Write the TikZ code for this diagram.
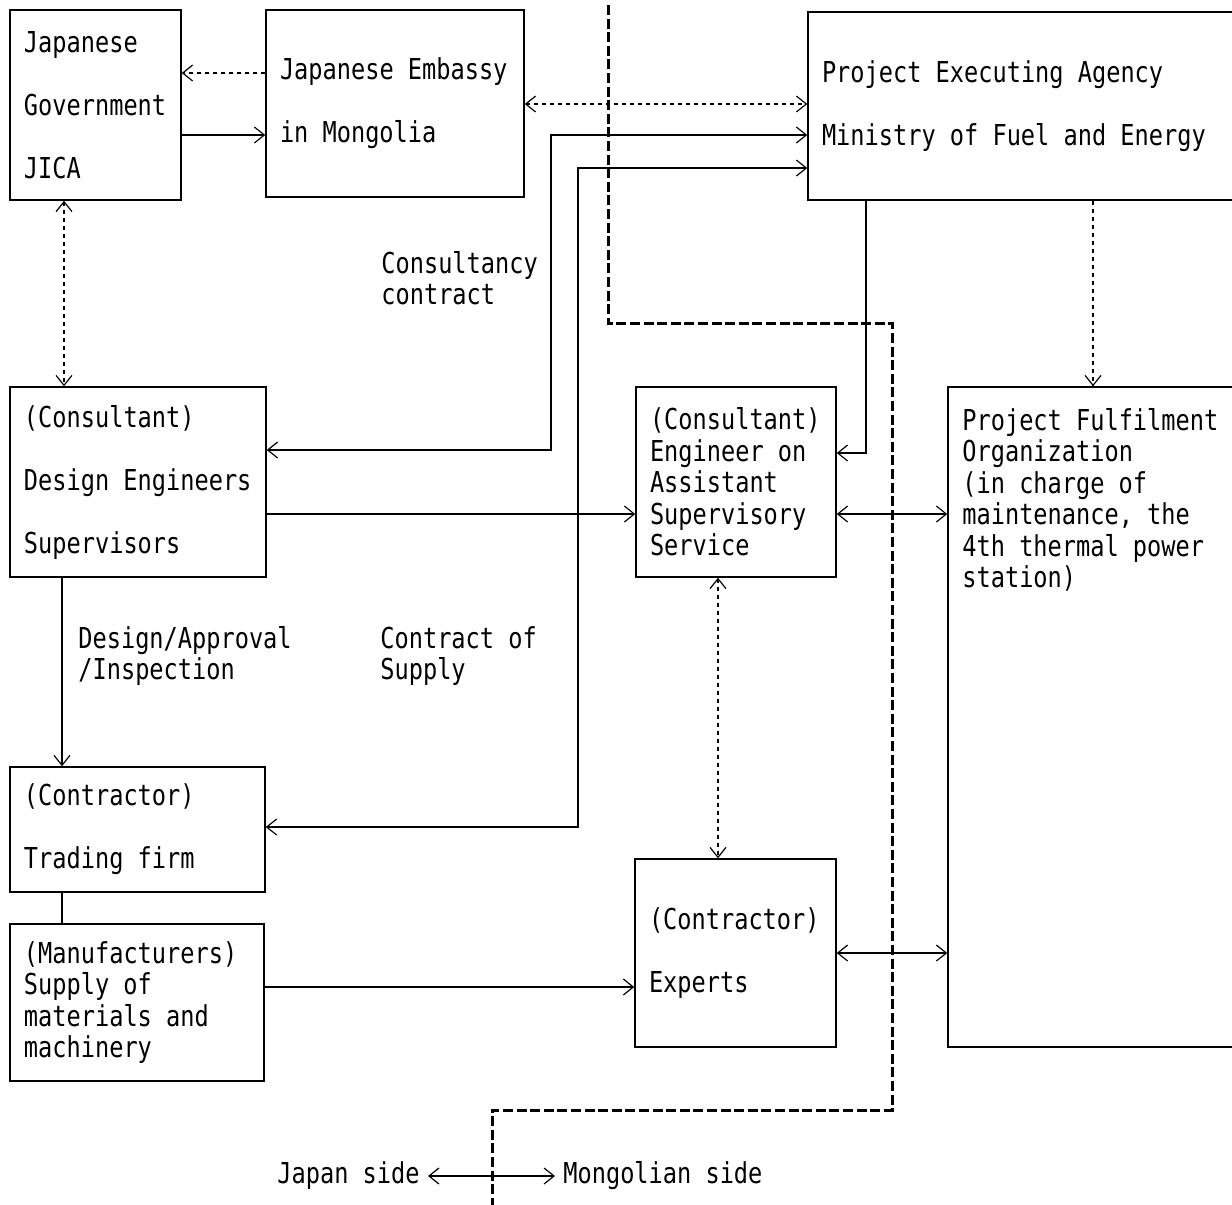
\documentclass[tikz,border=0pt]{standalone}
\usepackage{fontspec}
\newfontfamily\dmono[FakeStretch=0.82]{DejaVu Sans Mono}
\usetikzlibrary{arrows.meta}
\tikzset{
  every node/.style={font=\dmono\fontsize{14.4}{15.75}\selectfont,
    execute at begin node={\spaceskip=7.1pt\relax\xspaceskip=7.1pt\relax}},
  box/.style={draw, line width=0.7pt, rectangle, align=left, inner xsep=7pt, inner ysep=0pt},
  wide/.style={font=\dmono\fontsize{14.4}{31.5}\selectfont},
  conn/.style={line width=0.6pt, arrows={-}, >={Straight Barb[length=5pt,width=8pt]}},
  dotconn/.style={conn, dash pattern=on 2pt off 2pt},
  boundary/.style={line width=1.5pt, dash pattern=on 5pt off 1.8pt},
  lbl/.style={align=left, inner sep=0pt}
}
\begin{document}
\begin{tikzpicture}[x=0.5pt,y=-0.5pt]
\clip (0,0) rectangle (1232,1205);
\fill[white] (0,0) rectangle (1232,1205);

% boxes
\node[box,wide,minimum width=85.5pt,minimum height=95pt,text width=71.5pt] (jica) at (95.5,105) {Japanese\\Government\\JICA};
\node[box,wide,minimum width=129pt,minimum height=93.5pt,text width=115pt] (emb) at (395,103.5) {Japanese Embassy\\in Mongolia};
\node[box,wide,minimum width=214pt,minimum height=94pt,text width=200pt] (pea) at (1022,106) {Project Executing Agency\\Ministry of Fuel and Energy};
\node[box,wide,minimum width=128pt,minimum height=95pt,text width=114pt] (cons) at (138,482) {(Consultant)\\Design Engineers\\Supervisors};
\node[box,minimum width=100pt,minimum height=95pt,text width=86pt] (eng) at (736,482) {(Consultant)\\Engineer on\\Assistant\\Supervisory\\Service};
\node[box,minimum width=144pt,minimum height=330pt] (pfo) at (1092,717) {};
\node[lbl,anchor=north west] (pfotext) at (962,408) {Project Fulfilment\\Organization\\(in charge of\\maintenance, the\\4th thermal power\\station)};
\node[box,wide,minimum width=127.5pt,minimum height=62.5pt,text width=113.5pt] (trad) at (137.5,829.5) {(Contractor)\\Trading firm};
\node[box,minimum width=127pt,minimum height=78.5pt,text width=113pt] (manu) at (137,1002.5) {(Manufacturers)\\Supply of\\materials and\\machinery};
\node[box,wide,minimum width=100.5pt,minimum height=94pt,text width=86.5pt] (exp) at (735.5,953) {(Contractor)\\Experts};

% labels
\node[lbl,anchor=west] (lcc) at (381,278) {Consultancy\\contract};
\node[lbl,anchor=west] (lda) at (78,656) {Design/Approval\\/Inspection};
\node[lbl,anchor=west] (lcs) at (380,656) {Contract of\\Supply};

% boundary
\draw[boundary] (608,5) -- (608,323) -- (892,323) -- (892,1110) -- (492,1110) -- (492,1205);

% connectors
\draw[dotconn,->] (emb.west |- 0,73) -- (jica.east |- 0,73);
\draw[conn,->] (jica.east |- 0,135) -- (emb.west |- 0,135);
\draw[dotconn,<->] (emb.east |- 0,104) -- (pea.west |- 0,104);
\draw[conn,<->] (cons.east |- 0,450) -- (551,450) -- (551,135) -- (pea.west |- 0,135);
\draw[conn,<->] (trad.east |- 0,827) -- (578,827) -- (578,168) -- (pea.west |- 0,168);
\draw[conn,->] (pea.south -| 866,0) -- (866,453) -- (eng.east |- 0,453);
\draw[dotconn,->] (pea.south -| 1093,0) -- (pfo.north -| 1093,0);
\draw[dotconn,<->] (jica.south -| 64,0) -- (cons.north -| 64,0);
\draw[conn,->] (cons.east |- 0,514) -- (eng.west |- 0,514);
\draw[conn,<->] (eng.east |- 0,514) -- (pfo.west |- 0,514);
\draw[dotconn,<->] (eng.south -| 718,0) -- (exp.north -| 718,0);
\draw[conn,->] (cons.south -| 62,0) -- (trad.north -| 62,0);
\draw[conn] (trad.south -| 62,0) -- (manu.north -| 62,0);
\draw[conn,->] (manu.east |- 0,987) -- (exp.west |- 0,987);
\draw[conn,<->] (exp.east |- 0,953) -- (pfo.west |- 0,953);

% legend
\node[anchor=east,inner xsep=4pt,inner ysep=0pt] (js) at (428,1176) {Japan side};
\node[anchor=west,inner xsep=4pt,inner ysep=0pt] (ms) at (555,1176) {Mongolian side};
\coordinate (bx) at (492,1176);
\draw[conn,->] (bx) -- (js.east);
\draw[conn,->] (bx) -- (ms.west);
\end{tikzpicture}
\end{document}
